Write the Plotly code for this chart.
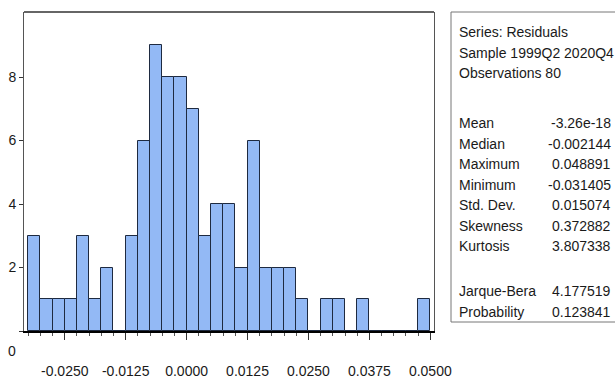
import plotly.graph_objects as go

# Histogram of residuals: bin left edges (width 0.0025) and counts
bin_width = 0.0025
bin_start = -0.0325
counts = [3, 1, 1, 1, 3, 1, 2, 0, 3, 6, 9, 8, 8, 7, 3, 4, 4,
          2, 6, 2, 2, 2, 1, 0, 1, 1, 0, 1, 0, 0, 0, 0, 1]
bin_centers = [bin_start + bin_width * (i + 0.5) for i in range(len(counts))]

x_tick_vals = [-0.025, -0.0125, 0.0, 0.0125, 0.025, 0.0375, 0.05]
x_tick_text = ["-0.0250", "-0.0125", "0.0000", "0.0125", "0.0250", "0.0375", "0.0500"]
y_tick_vals = [0, 2, 4, 6, 8]
y_tick_text = ["", "2", "4", "6", "8"]

# Descriptive statistics panel
header_lines = ["Series: Residuals", "Sample 1999Q2 2020Q4", "Observations 80"]
stat_names = ["Mean", "Median", "Maximum", "Minimum", "Std. Dev.", "Skewness", "Kurtosis"]
stat_values = ["-3.26e-18", "-0.002144", "0.048891", "-0.031405", "0.015074", "0.372882", "3.807338"]
test_names = ["Jarque-Bera", "Probability"]
test_values = ["4.177519", "0.123841"]

W, H = 615, 379
ML, MR, MT, MB = 24, 181, 12, 48
PW, PH = W - ML - MR, H - MT - MB

FONT = "Liberation Sans, Arial, sans-serif"
TXT = "#1a1a1a"


def px_x(p):
    return (p - ML) / PW


def px_y(p):
    return (H - MB - p) / PH


fig = go.Figure()
fig.add_trace(go.Bar(
    x=bin_centers, y=counts, width=bin_width,
    marker=dict(color="#93B9F5", line=dict(color="#1e2a40", width=1)),
    hoverinfo="x+y", showlegend=False,
))

fig.update_layout(
    width=W, height=H,
    margin=dict(l=ML, r=MR, t=MT, b=MB, autoexpand=False),
    paper_bgcolor="white", plot_bgcolor="white",
    bargap=0,
    font=dict(family=FONT, size=14, color=TXT),
    xaxis=dict(
        range=[-0.03336, 0.05076], tickvals=x_tick_vals, ticktext=x_tick_text,
        ticks="outside", ticklen=7, tickwidth=1, tickcolor="#333",
        minor=dict(dtick=bin_width, tick0=0, ticks="outside", ticklen=3, tickcolor="#555"),
        showgrid=False, zeroline=False, automargin=False,
        showline=True, linecolor="#000", linewidth=2,
        ticklabelstandoff=19,
        tickfont=dict(family=FONT, size=14, color=TXT),
    ),
    yaxis=dict(
        range=[0, 10.05], tickvals=y_tick_vals, ticktext=y_tick_text,
        ticks="outside", ticklen=4, tickcolor="#333",
        showgrid=False, zeroline=False, automargin=False,
        showline=True, linecolor="#555", linewidth=1, mirror=True,
        tickfont=dict(family=FONT, size=14, color=TXT),
    ),
)

# top border of the plot frame
fig.add_shape(type="line", xref="paper", yref="paper", x0=0, x1=1, y0=1, y1=1,
              line=dict(color="#666", width=2))

# zero label placed below the baseline
fig.add_annotation(xref="paper", yref="paper", x=px_x(12), y=px_y(351),
                   text="0", showarrow=False, xanchor="center", yanchor="middle",
                   font=dict(family=FONT, size=14, color=TXT))

# statistics box
fig.add_shape(type="rect", xref="paper", yref="paper",
              x0=px_x(451), x1=px_x(617), y0=px_y(12), y1=px_y(322),
              line=dict(color="#777", width=1), fillcolor="rgba(0,0,0,0)")

line_h = 20.5
text_x = 457
value_x = 613
rows = []
y0 = 32
for i, t in enumerate(header_lines):
    rows.append((y0 + i * line_h, t, None))
y1 = 123
for i, (n, v) in enumerate(zip(stat_names, stat_values)):
    rows.append((y1 + i * line_h, n, v))
y2 = 291
for i, (n, v) in enumerate(zip(test_names, test_values)):
    rows.append((y2 + i * line_h, n, v))

for yy, label, val in rows:
    fig.add_annotation(xref="paper", yref="paper", x=px_x(text_x), y=px_y(yy),
                       text=label, showarrow=False, xanchor="left", yanchor="middle",
                       font=dict(family=FONT, size=14, color=TXT))
    if val is not None:
        fig.add_annotation(xref="paper", yref="paper", x=px_x(value_x), y=px_y(yy),
                           text=val, showarrow=False, xanchor="right", yanchor="middle",
                           font=dict(family=FONT, size=14, color=TXT))

fig.write_html("out.html")
